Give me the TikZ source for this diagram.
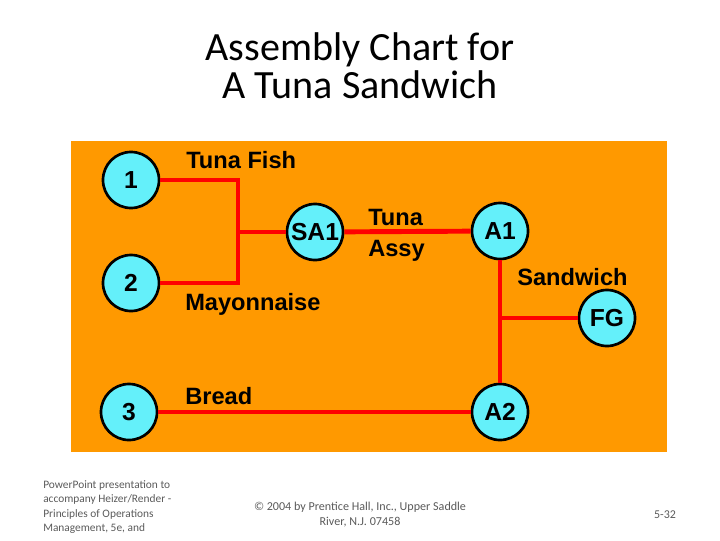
\documentclass[tikz,border=0pt]{standalone}
\usepackage{fontspec}
\setmainfont{Carlito}
\newfontfamily\arialfont{Liberation Sans}
\definecolor{chartorange}{RGB}{255,153,0}
\definecolor{partcyan}{RGB}{100,240,250}
\definecolor{footgray}{RGB}{90,90,90}
\tikzset{
  part/.style={circle, draw=black, line width=1.9pt, fill=partcyan, minimum size=1.4cm, inner sep=0pt,
    font=\arialfont\bfseries\fontsize{17.5}{20}\selectfont},
  flow/.style={red, line width=3.5pt},
  tag/.style={anchor=base west, inner sep=0pt, font=\arialfont\bfseries\fontsize{16.8}{20}\selectfont},
  foot/.style={text=footgray, inner sep=0pt}
}
\begin{document}
\begin{tikzpicture}[x=0.025cm, y=-0.025cm]
    \useasboundingbox (0,0) rectangle (720,540);
    % Titulo
    \node[align=center, font=\fontsize{28.5}{27}\selectfont] (title) at (360,66) {Assembly Chart for\\A Tuna Sandwich};

    % Fondo
    \fill[chartorange] (71,141) rectangle (667,452);

    % Partes
    \node[part] (p1) at (131,180) {1};
    \node[part] (p2) at (131,283) {2};
    \node[part] (p3) at (129,412) {3};
    \node[part] (sa1) at (315,232) {SA1};
    \node[part] (a1) at (500,231) {A1};
    \node[part] (a2) at (500,412) {A2};
    \node[part] (fg) at (607,318) {FG};

    % Uniones
    \coordinate (j1) at (238,180);
    \coordinate (j2) at (238,283);
    \coordinate (jm) at (238,232);
    \coordinate (jf) at (500,318);

    % Lineas
    \draw[flow] (p1) -- (j1) -- (j2) -- (p2);
    \draw[flow] (jm) -- (sa1);
    \draw[flow] (sa1) -- (a1);
    \draw[flow] (a1) -- (a2);
    \draw[flow] (jf) -- (fg);
    \draw[flow] (p3) -- (a2);

    % Etiquetas
    \node[tag] (fish) at (186,168) {Tuna Fish};
    \node[tag] (mayo) at (185,310) {Mayonnaise};
    \node[tag] (bread) at (185,404) {Bread};
    \node[tag] (tuna) at (368,225) {Tuna};
    \node[tag] (assy) at (368,256) {Assy};
    \node[tag] (sand) at (517,285) {Sandwich};

    % Pie
    \node[foot, anchor=west, align=left, font=\fontsize{8.1}{10.2}\selectfont] (credit) at (43,507)
      {PowerPoint presentation to\\accompany Heizer/Render -\\Principles of Operations\\Management, 5e, and};
    \node[foot, align=center, font=\fontsize{8.6}{10.6}\selectfont] (copy) at (360,515)
      {\textcopyright{} 2004 by Prentice Hall, Inc., Upper Saddle\\River, N.J. 07458};
    \node[foot, font=\fontsize{8.5}{10}\selectfont] (page) at (665,515) {5-32};
\end{tikzpicture}
\end{document}
